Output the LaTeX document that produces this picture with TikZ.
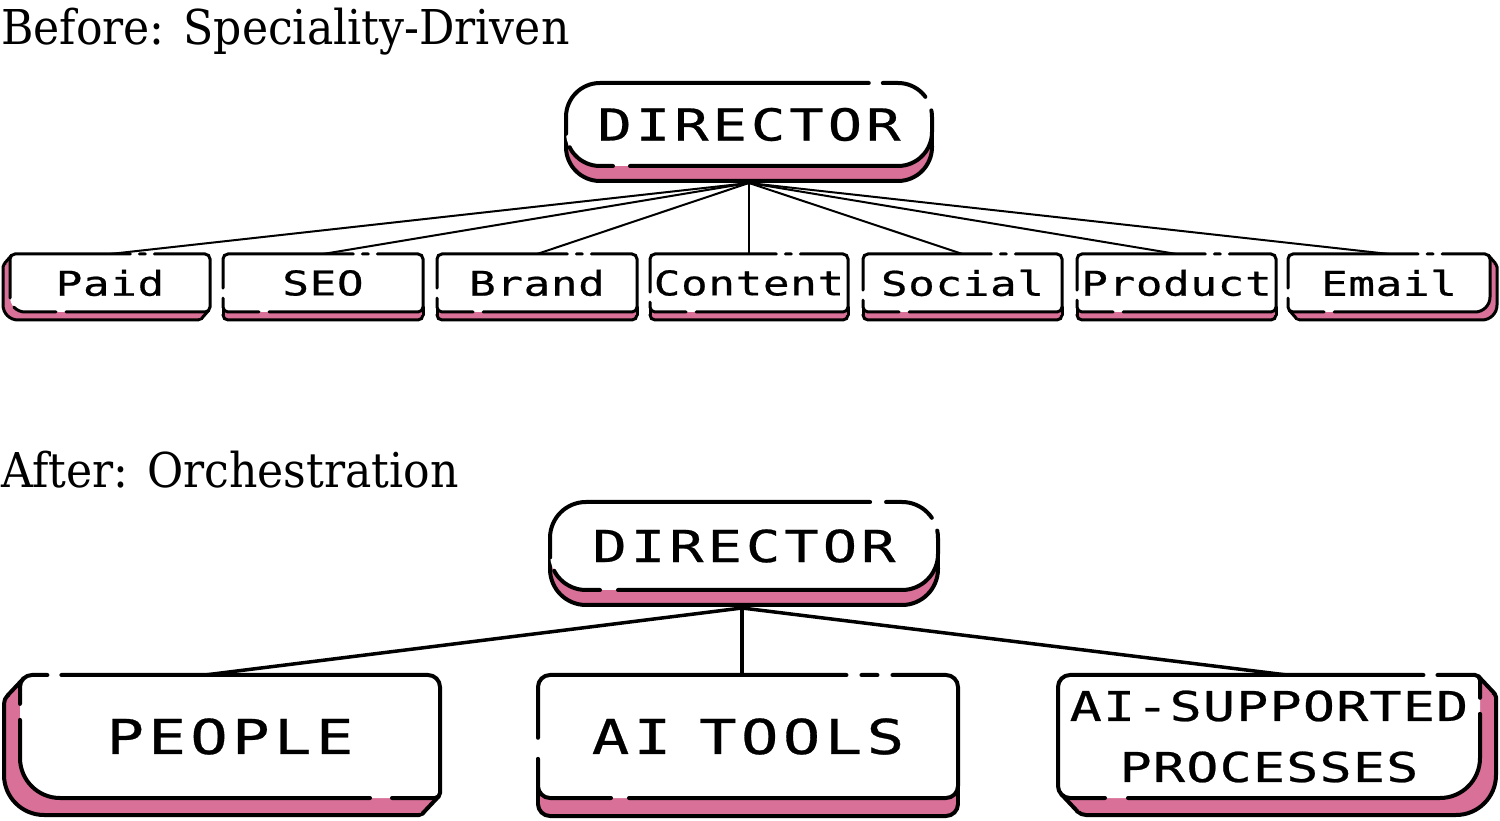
\documentclass[tikz,border=0pt]{standalone}
\usepackage{fontspec}
\usetikzlibrary{calc}
\newfontfamily\titlefont[FakeStretch=0.92]{DejaVu Serif}
\newfontfamily\pixsmall[FakeStretch=1.3,LetterSpace=2,FakeBold=0.6]{DejaVu Sans Mono}
\newfontfamily\pixmid[FakeStretch=1.3,LetterSpace=3,FakeBold=0.6]{DejaVu Sans Mono}
\newfontfamily\pixwide[FakeStretch=1.3,LetterSpace=9,FakeBold=0.6]{DejaVu Sans Mono}
\definecolor{pk}{HTML}{D97097}
\newcommand\setr[4]{\def\rTL{#1}\def\rTR{#2}\def\rBR{#3}\def\rBL{#4}}
\newcommand\rrpath[4]{({#1+\rBL},#2) -- ({#3-\rBR},#2) arc[start angle=270,end angle=360,radius=\rBR pt] -- (#3,{#4-\rTR}) arc[start angle=0,end angle=90,radius=\rTR pt] -- ({#1+\rTL},#4) arc[start angle=90,end angle=180,radius=\rTL pt] -- (#1,{#2+\rBL}) arc[start angle=180,end angle=270,radius=\rBL pt] -- cycle}
% #1 x1 #2 y1 #3 x2 #4 y2 #5 dx #6 dy #7 line width #8 options (dash) #9 type
\newcommand\shadbox[9]{%
  \pgfmathsetmacro\cc{1-0.7071}%
  \ifcase#9\relax
    \pgfmathsetmacro\Px{#1+\rTL*\cc}\pgfmathsetmacro\Py{#4-\rTL*\cc}%
    \pgfmathsetmacro\Qx{#3-\rBR*\cc}\pgfmathsetmacro\Qy{#2+\rBR*\cc}%
  \or
    \pgfmathsetmacro\Px{#1}\pgfmathsetmacro\Py{#2+\rBL}%
    \pgfmathsetmacro\Qx{#3}\pgfmathsetmacro\Qy{#2+\rBR}%
  \or
    \pgfmathsetmacro\Px{#1+\rBL*\cc}\pgfmathsetmacro\Py{#2+\rBL*\cc}%
    \pgfmathsetmacro\Qx{#3-\rTR*\cc}\pgfmathsetmacro\Qy{#4-\rTR*\cc}%
  \fi
  \pgfmathsetmacro\ux{\Qx-\Px}\pgfmathsetmacro\uy{\Qy-\Py}%
  \fill[pk,shift={(#5,#6)}] \rrpath{#1}{#2}{#3}{#4};
  \begin{scope}
    \clip ({\Px+(#5)-\ux},{\Py+(#6)-\uy}) -- ({\Qx+(#5)+\ux},{\Qy+(#6)+\uy})
      -- ({\Qx+(#5)+\ux+20*(#5)},{\Qy+(#6)+\uy+20*(#6)})
      -- ({\Px+(#5)-\ux+20*(#5)},{\Py+(#6)-\uy+20*(#6)}) -- cycle;
    \draw[line width=#7pt,shift={(#5,#6)}] \rrpath{#1}{#2}{#3}{#4};
  \end{scope}
  \fill[pk] (\Px,\Py) -- ({\Px+(#5)},{\Py+(#6)}) -- ({\Qx+(#5)},{\Qy+(#6)}) -- (\Qx,\Qy) -- cycle;
  \draw[line width=#7pt,line cap=round] (\Px,\Py) -- ++(#5,#6) (\Qx,\Qy) -- ++(#5,#6);
  \draw[line width=#7pt,line cap=round,fill=white,#8] \rrpath{#1}{#2}{#3}{#4};
}
\begin{document}
\begin{tikzpicture}[x=1pt,y=1pt,
  dsmall/.style={dash pattern=on 31pt off 10pt on 253pt off 9pt on 6pt off 9pt on 162pt off 10pt on 200pt},
  lbl/.style={inner sep=0pt,outer sep=0pt,align=center},
  smalllbl/.style={lbl,minimum width=200pt,minimum height=58pt,font=\pixsmall\fontsize{34}{40}\selectfont},
  biglbl/.style={lbl,minimum width=420pt,minimum height=123pt,font=\pixwide\fontsize{48}{56}\selectfont},
  dirlbl/.style={lbl,font=\pixwide\fontsize{44}{50}\selectfont},
  title/.style={anchor=base west,inner sep=0pt,font=\titlefont\fontsize{48}{56}\selectfont},
  connA/.style={line width=2pt,line cap=round},
  connB/.style={line width=3.5pt,line cap=round}]
\useasboundingbox[fill=white] (0,0) rectangle (1500,820);

% titles
\node[title] (t1) at (1,775) {Before: Speciality-Driven};
\node[title] (t2) at (1,332) {After: Orchestration};

% before: director
\setr{34}{34}{34}{34}
\shadbox{566}{654}{932}{737}{0}{-15}{4}{dash pattern=on 13pt off 17pt on 343pt off 15pt on 47pt off 14pt on 339pt off 14pt on 300pt}{1}
% small boxes
\setr{5}{5}{5}{15}
\shadbox{10}{508}{210}{566}{-7}{-8}{3}{dsmall}{0}
\setr{5}{5}{5}{5}
\shadbox{223}{508}{423}{566}{0}{-8}{3}{dsmall}{1}
\shadbox{437}{508}{637}{566}{0}{-8}{3}{dsmall}{1}
\shadbox{650}{508}{848}{566}{0}{-8}{3}{dsmall}{1}
\shadbox{863}{508}{1062}{566}{0}{-8}{3}{dsmall}{1}
\shadbox{1077}{508}{1276}{566}{0}{-8}{3}{dsmall}{1}
\setr{5}{5}{15}{5}
\shadbox{1288}{508}{1490}{566}{7}{-8}{3}{dsmall}{2}

% after: director
\setr{36}{36}{36}{36}
\shadbox{550}{230}{938}{318}{0}{-15}{4}{dash pattern=on 14pt off 18pt on 364pt off 14pt on 51pt off 16pt on 360pt off 14pt on 300pt}{1}
% big boxes
\setr{12}{12}{5}{40}
\shadbox{20}{22}{440}{145}{-16}{-17}{4}{dash pattern=on 310pt off 22pt on 542pt off 14pt on 51pt off 16pt on 400pt}{0}
\setr{12}{12}{12}{12}
\shadbox{538}{22}{958}{145}{0}{-18}{4}{dash pattern=on 61pt off 18pt on 507pt off 15pt on 16pt off 15pt on 366pt off 21pt on 400pt}{1}
\setr{12}{5}{40}{12}
\shadbox{1058}{22}{1480}{145}{16}{-17}{4}{dash pattern=on 35pt off 23pt on 419pt off 16pt on 63pt off 14pt on 500pt}{2}

% labels
\node[dirlbl,minimum width=366pt,minimum height=83pt] (dirA) at (749,695.5) {DIRECTOR};
\node[smalllbl] (paid) at (110,537) {Paid};
\node[smalllbl] (seo) at (323,537) {SEO};
\node[smalllbl] (brand) at (537,537) {Brand};
\node[smalllbl,minimum width=198pt] (content) at (749,537) {Content};
\node[smalllbl,minimum width=199pt] (social) at (962.5,537) {Social};
\node[smalllbl,minimum width=199pt] (product) at (1176.5,537) {Product};
\node[smalllbl,minimum width=202pt] (email) at (1389,537) {Email};

\node[dirlbl,minimum width=388pt,minimum height=88pt] (dirB) at (744,274) {DIRECTOR};
\node[biglbl] (people) at (230,83.5) {PEOPLE};
\node[biglbl] (aitools) at (748,83.5) {AI\kern-14pt\ TOOLS};
\node[biglbl,minimum width=422pt,font=\pixmid\fontsize{41}{61}\selectfont] (aisup) at (1269,83.5) {AI-SUPPORTED\\PROCESSES};

% connectors
\coordinate (topA) at ([yshift=-17pt]dirA.south);
\foreach \n in {paid,seo,brand,content,social,product,email}
  \draw[connA] (topA) -- (\n.north);
\coordinate (topB) at ([xshift=-2pt,yshift=-18pt]dirB.south);
\draw[connB] (topB) -- ([xshift=-25pt]people.north);
\draw[connB] (topB) -- ([xshift=-6pt]aitools.north);
\draw[connB] (topB) -- ([xshift=18pt]aisup.north);
\end{tikzpicture}
\end{document}
